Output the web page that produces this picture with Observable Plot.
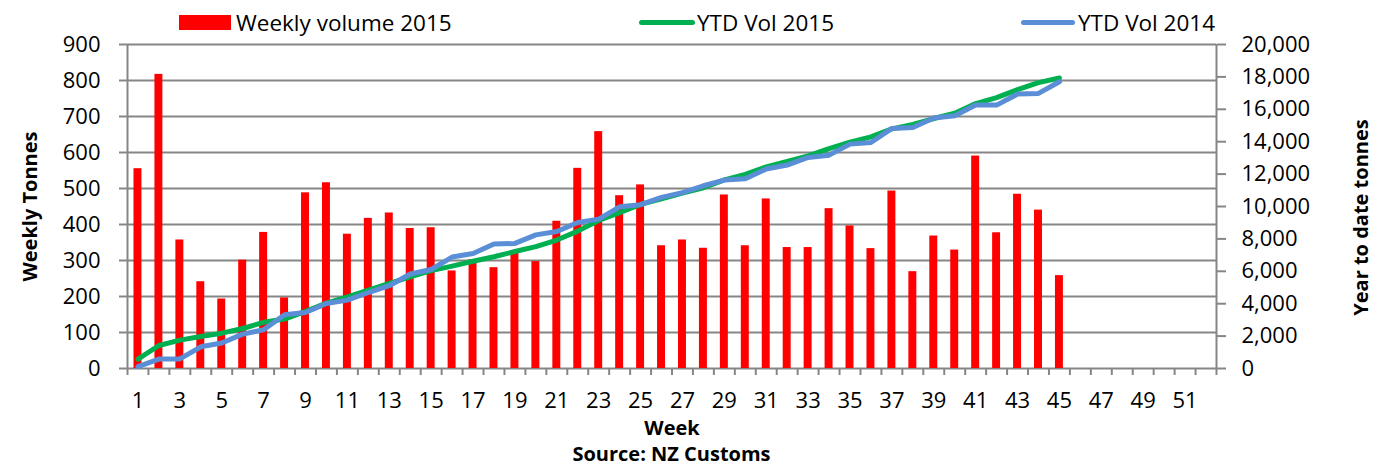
<!DOCTYPE html>
<html>
<head>
<meta charset="utf-8">
<script src="https://cdn.jsdelivr.net/npm/d3@7"></script>
<script src="https://cdn.jsdelivr.net/npm/@observablehq/plot@0.6"></script>
<style>
  html, body { margin: 0; padding: 0; background: #fff; }
  #wrap { position: relative; width: 1375px; height: 466px; font-family: 'Open Sans', sans-serif; color: #000; }
  .lg { position: absolute; top: 0; height: 45px; display: flex; align-items: center; font-size: 22.5px; white-space: nowrap; }
  .sw { display: inline-block; margin-right: 5px; }
  #chart { position: absolute; left: 0; top: 36px; }
  #source { position: absolute; left: 0; width: 1343px; top: 442px; text-align: center; font-weight: bold; font-size: 20px; line-height: 24px; }
</style>
</head>
<body>
<div id="wrap">
  <div class="lg" style="left:179px;"><span class="sw" style="width:52px;height:15px;background:#FF0000;"></span>Weekly volume 2015</div>
  <div class="lg" style="left:639px;"><span class="sw" style="width:56px;height:5px;border-radius:3px;background:#00B050;margin-right:2px;"></span>YTD Vol 2015</div>
  <div class="lg" style="left:1021px;"><span class="sw" style="width:54px;height:5px;border-radius:3px;background:#5A8ED6;margin-right:3px;"></span>YTD Vol 2014</div>
  <div id="chart"></div>
  <div id="source">Source: NZ Customs</div>
</div>
<script>
// ---- data ----
const weeks = d3.range(1, 46);            // weeks with data
const allWeeks = d3.range(1, 53);         // category axis: weeks 1..52
const weeklyVolume2015 = [555,817,357,241,193,301,378,196,488,516,
                          373,417,432,389,391,271,302,280,320,297,
                          409,556,658,480,510,341,357,334,482,341,
                          471,336,336,444,396,333,493,269,368,329,
                          590,377,484,440,258];
const ytdVol2015 = [580,1420,1750,1980,2180,2470,2850,3050,3530,4040,
                    4420,4830,5260,5650,6040,6320,6620,6900,7220,7520,
                    7930,8480,9140,9620,10130,10470,10830,11160,11640,11980,
                    12450,12790,13130,13570,13970,14300,14790,15060,15430,15760,
                    16350,16720,17210,17650,17930];
const ytdVol2014 = [120,580,590,1340,1570,2120,2390,3320,3460,4010,
                    4220,4690,5110,5830,6110,6880,7100,7680,7720,8250,
                    8460,9010,9220,9980,10110,10560,10860,11280,11630,11710,
                    12310,12560,13030,13170,13850,13950,14820,14880,15460,15600,
                    16260,16260,16940,16980,17700];
const weeklyTicks = [0,100,200,300,400,500,600,700,800,900];
const ytdTicks = [0,2000,4000,6000,8000,10000,12000,14000,16000,18000,20000];
const xLabelWeeks = allWeeks.filter(w => w % 2 === 1);

// secondary axis mapping (0..20000 onto 0..900)
const k = 900 / 20000;
const bars = weeks.map((w, i) => ({week: w, vol: weeklyVolume2015[i]}));
const l15 = weeks.map((w, i) => ({week: w, v: ytdVol2015[i] * k}));
const l14 = weeks.map((w, i) => ({week: w, v: ytdVol2014[i] * k}));
const boundaries = [0, ...allWeeks].map(w => w + 0.5);
const grey = "#868686";
const half = 0.19;

const chart = Plot.plot({
  width: 1375,
  height: 400,
  marginLeft: 127,
  marginRight: 159,
  marginTop: 8,
  marginBottom: 68,
  style: {fontFamily: "'Open Sans', sans-serif", fontSize: "22px", color: "#000", background: "transparent", overflow: "visible"},
  x: {type: "linear", domain: [0.5, 52.5]},
  y: {domain: [0, 900]},
  marks: [
    Plot.ruleY(weeklyTicks, {stroke: grey, strokeWidth: 2}),
    Plot.ruleX([0.5, 52.5], {stroke: grey, strokeWidth: 2}),
    Plot.rectY(bars, {x1: d => d.week - half, x2: d => d.week + half, y1: 0, y2: "vol", fill: "#FF0000"}),
    Plot.line(l15, {x: "week", y: "v", stroke: "#00B050", strokeWidth: 5}),
    Plot.line(l14, {x: "week", y: "v", stroke: "#5A8ED6", strokeWidth: 5}),
    Plot.axisY({anchor: "left", ticks: weeklyTicks, tickSize: 8, tickPadding: 19, stroke: grey, strokeWidth: 2, fontSize: 22, label: null}),
    Plot.axisY({anchor: "right", ticks: ytdTicks.map(v => v * k), tickFormat: v => d3.format(",")(Math.round(v / k)), tickSize: 9, tickPadding: 16, stroke: grey, strokeWidth: 2, fontSize: 22, label: null}),
    Plot.axisX({ticks: boundaries, tickSize: 7, tickFormat: () => "", stroke: grey, strokeWidth: 2, label: null}),
    Plot.axisX({ticks: xLabelWeeks, tickSize: 0, tickPadding: 24, fontSize: 22, label: null}),
    Plot.text(["Weekly Tonnes"], {frameAnchor: "left", dx: -97, rotate: -90, textAnchor: "middle", lineAnchor: "middle", fontWeight: "bold", fontSize: 20}),
    Plot.text(["Year to date tonnes"], {frameAnchor: "right", dx: 145, dy: 11, rotate: -90, textAnchor: "middle", lineAnchor: "middle", fontWeight: "bold", fontSize: 20}),
    Plot.text(["Week"], {frameAnchor: "bottom", dy: 60, textAnchor: "middle", lineAnchor: "middle", fontWeight: "bold", fontSize: 20})
  ]
});
document.getElementById("chart").appendChild(chart);
</script>
</body>
</html>
